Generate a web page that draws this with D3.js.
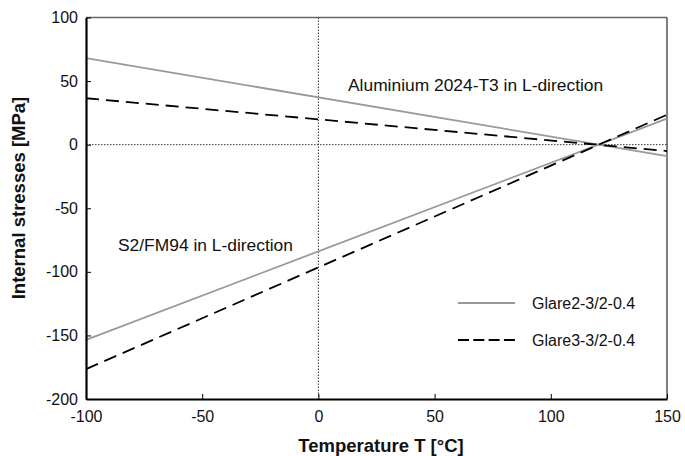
<!DOCTYPE html>
<html>
<head>
<meta charset="utf-8">
<script src="https://d3js.org/d3.v7.min.js"></script>
<style>
  body { margin: 0; background: #fff; }
  text { font-family: "Liberation Sans", Arial, sans-serif; }
</style>
</head>
<body>
<div id="chart"></div>
<script>
// temperature end points of each line
var temps = [-100, 150];
var seriesNames = ["Glare2-3/2-0.4", "Glare3-3/2-0.4"];
// stresses in aluminium layers
var aluGlare2 = [68, -9];
var aluGlare3 = [36.5, -5];
// stresses in S2/FM94 layers
var fmGlare2 = [-153.5, 20.5];
var fmGlare3 = [-176.5, 23.5];
var xTicks = [-100, -50, 0, 50, 100, 150];
var yTicks = [-200, -150, -100, -50, 0, 50, 100];

var width = 685, height = 456;
var margin = { top: 17.5, right: 18, bottom: 57, left: 86 };

var svg = d3.select("#chart").append("svg")
  .attr("width", width)
  .attr("height", height);

var x = d3.scaleLinear().domain([-100, 150]).range([margin.left, width - margin.right]);
var y = d3.scaleLinear().domain([-200, 100]).range([height - margin.bottom, margin.top]);

// frame top and right
svg.append("line")
  .attr("x1", x(-100)).attr("x2", x(150))
  .attr("y1", y(100)).attr("y2", y(100))
  .attr("stroke", "#666").attr("stroke-width", 1.5);
svg.append("line")
  .attr("x1", x(150)).attr("x2", x(150))
  .attr("y1", y(100)).attr("y2", y(-200))
  .attr("stroke", "#000").attr("stroke-width", 1);

// dotted zero lines
svg.append("line")
  .attr("x1", x(-100)).attr("x2", x(150))
  .attr("y1", y(0)).attr("y2", y(0))
  .attr("stroke", "#333").attr("stroke-width", 1).attr("stroke-dasharray", "1.5,1.5");
svg.append("line")
  .attr("x1", x(0)).attr("x2", x(0))
  .attr("y1", y(100)).attr("y2", y(-200))
  .attr("stroke", "#333").attr("stroke-width", 1).attr("stroke-dasharray", "1.5,1.5");

var styles = [
  { color: "#999", width: 1.8, dash: null },
  { color: "#000", width: 1.8, dash: "13,7" }
];

var lines = [
  { vals: aluGlare2, s: 0 },
  { vals: aluGlare3, s: 1 },
  { vals: fmGlare2, s: 0 },
  { vals: fmGlare3, s: 1 }
];

var line = d3.line()
  .x(function(d, i) { return x(temps[i]); })
  .y(function(d) { return y(d); });

svg.append("g")
  .selectAll("path")
  .data(lines)
  .enter()
  .append("path")
    .attr("d", function(d) { return line(d.vals); })
    .attr("fill", "none")
    .attr("stroke", function(d) { return styles[d.s].color; })
    .attr("stroke-width", function(d) { return styles[d.s].width; })
    .attr("stroke-dasharray", function(d) { return styles[d.s].dash; });

// axes, ticks pointing inward, plain hyphen for negatives
var fmt = function(d) { return String(d); };
var xAxis = svg.append("g")
  .attr("transform", "translate(0," + y(-200) + ")")
  .call(d3.axisBottom(x).tickValues(xTicks).tickFormat(fmt).tickSizeInner(-5).tickSizeOuter(0).tickPadding(9));
var yAxis = svg.append("g")
  .attr("transform", "translate(" + x(-100) + ",0)")
  .call(d3.axisLeft(y).tickValues(yTicks).tickFormat(fmt).tickSizeInner(-5).tickSizeOuter(0).tickPadding(8));

[xAxis, yAxis].forEach(function(a) {
  a.select(".domain").attr("stroke", "#000").attr("stroke-width", 2.2);
  a.selectAll(".tick line").attr("stroke", "#000").attr("stroke-width", 1);
  a.selectAll(".tick text")
    .attr("fill", "#111")
    .style("font-size", "16px")
    .style("font-family", "'Liberation Sans', Arial, sans-serif");
});
xAxis.selectAll(".tick text").attr("dy", "0.85em");

// axis titles
svg.append("text")
  .attr("x", 381)
  .attr("y", 452)
  .attr("text-anchor", "middle")
  .style("font-size", "18.5px")
  .style("font-weight", "bold")
  .attr("fill", "#111")
  .text("Temperature T [°C]");

svg.append("text")
  .attr("transform", "translate(25,198) rotate(-90)")
  .attr("text-anchor", "middle")
  .style("font-size", "18.5px")
  .style("font-weight", "bold")
  .attr("fill", "#111")
  .text("Internal stresses [MPa]");

// annotations
svg.append("text")
  .attr("x", 348).attr("y", 91)
  .style("font-size", "17.4px")
  .attr("fill", "#111")
  .text("Aluminium 2024-T3 in L-direction");

svg.append("text")
  .attr("x", 118).attr("y", 251)
  .style("font-size", "17.4px")
  .attr("fill", "#111")
  .text("S2/FM94 in L-direction");

// legend
var legend = svg.append("g")
  .selectAll("g")
  .data(seriesNames)
  .enter()
  .append("g")
    .attr("transform", function(d, i) { return "translate(458," + (303 + i * 37) + ")"; });

legend.append("line")
  .attr("x1", 0).attr("x2", 57)
  .attr("y1", 0).attr("y2", 0)
  .attr("stroke", function(d, i) { return styles[i].color; })
  .attr("stroke-width", function(d, i) { return styles[i].width; })
  .attr("stroke-dasharray", function(d, i) { return i === 1 ? "11,4.3" : null; });

legend.append("text")
  .attr("x", 74).attr("y", 6)
  .style("font-size", "16px")
  .attr("fill", "#111")
  .text(function(d) { return d; });
</script>
</body>
</html>
